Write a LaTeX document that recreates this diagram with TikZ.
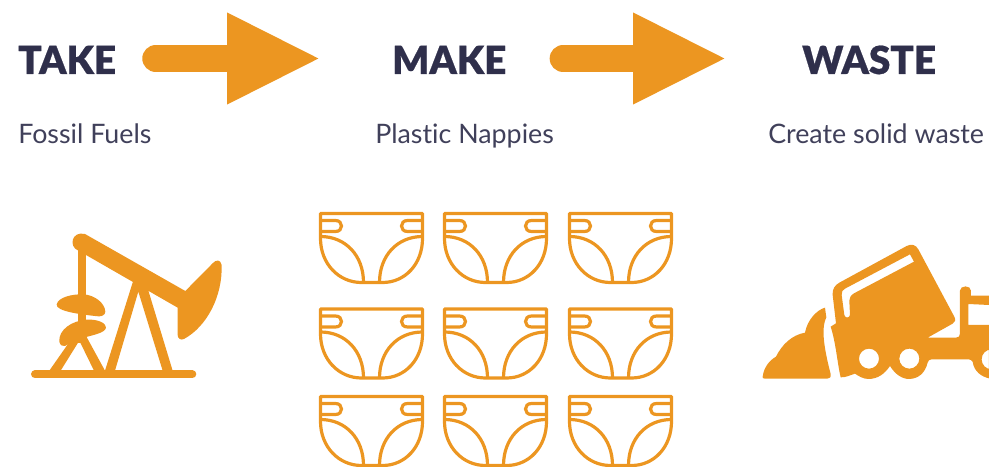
\documentclass[tikz,border=0pt]{standalone}
\usepackage{fontspec}
\setmainfont{Lato}[Ligatures=NoCommon]
\newfontfamily\headfont{Lato Black}[FakeBold=0.6]
\usetikzlibrary{arrows.meta}
\definecolor{accent}{RGB}{236,150,33}
\definecolor{ink}{RGB}{47,47,75}
\tikzset{
  headlabel/.style={anchor=base west,inner sep=0pt,text=ink,text height=23.25pt,text depth=0pt,font=\headfont\fontsize{29}{30}\selectfont},
  sublabel/.style={anchor=base west,inner sep=0pt,text=ink!92,font=\fontsize{20.1}{22}\selectfont},
  flow/.style={draw=accent,line width=20.25pt,line cap=round,-{Triangle[length=70.5pt,width=63.4pt,fill=accent]}},
  nappy/.pic={
    \draw[accent,line width=2.4pt,line join=round]
      (0,0) -- (102,0) -- (102,25) .. controls (102,50) and (85,69) .. (62,69) -- (41,69) .. controls (18,69) and (0,50) .. (0,25) -- cycle;
    \draw[accent,line width=2.4pt] (0,7) -- (15,7) .. controls (23,7) and (23,18) .. (15,18) -- (0,18);
    \draw[accent,line width=2.4pt] (102,7) -- (87,7) .. controls (79,7) and (79,18) .. (87,18) -- (102,18);
    \draw[accent,line width=2.4pt] (0,23) .. controls (25,23) and (43,42) .. (43,69);
    \draw[accent,line width=2.4pt] (102,23) .. controls (77,23) and (59,42) .. (59,69);
  }
}
\begin{document}
\begin{tikzpicture}[x=0.75pt,y=-0.75pt]
\useasboundingbox (0,0) rectangle (989,467);
\node[headlabel] (take) at (18,74) {TAKE};
\node[headlabel] (make) at (392,74) {MAKE};
\node[headlabel] (waste) at (802,74) {WASTE};
\node[sublabel] (fuels) at (18,143) {Fossil Fuels};
\node[sublabel] (nappies) at (375,143) {Plastic Nappies};
\node[sublabel] (solid) at (768,143) {Create solid waste};
\draw[flow,shorten <=29.6pt,shorten >=53.25pt] (take.east) -- (make.west);
\draw[flow,shorten <=42.4pt,shorten >=56.25pt] (make.east) -- (waste.west);
\foreach \i in {320.5,444.5,569.5}{
  \foreach \j in {213.5,309,396.5}{
    \pic at (\i,\j) {nappy};
  }
}
% pump
\begin{scope}[shift={(0,210)},scale=0.3333]
\draw[accent,line width=6pt,line cap=round] (105,493) -- (577,493);
\fill[accent] (233,100) rectangle (258,400);
\fill[accent] (148,482) -- (225,372) -- (255,372) -- (315,482) -- (282,482) -- (238,392) -- (182,482) -- cycle;
\fill[accent] (315,482) -- (402,205) -- (440,225) -- (518,482) -- (488,482) -- (415,245) -- (345,482) -- cycle;
\fill[accent] (255,72) -- (556,243) -- (638,160) .. controls (648,148) and (662,148) .. (665,165)
  .. controls (668,260) and (620,350) .. (552,387) .. controls (542,392) and (533,385) .. (533,375)
  -- (533,293) -- (258,135) -- (235,122) .. controls (205,110) and (215,62) .. (255,72) -- cycle;
\fill[accent] (170,283) .. controls (175,262) and (215,252) .. (250,253) .. controls (285,255) and (315,280) .. (316,305)
  .. controls (316,315) and (305,320) .. (295,319) .. controls (255,315) and (165,305) .. (170,283) -- cycle;
\fill[accent] (178,395) .. controls (175,360) and (215,332) .. (260,329) .. controls (295,327) and (318,340) .. (318,352)
  .. controls (318,368) and (280,375) .. (255,382) .. controls (230,392) and (210,400) .. (195,408) .. controls (188,411) and (180,405) .. (178,395) -- cycle;
\end{scope}
% truck
\begin{scope}[shift={(750,230)},scale=0.3333]
\fill[accent] (38,440) .. controls (42,410) and (60,390) .. (78,380) .. controls (95,345) and (125,315) .. (165,308)
  .. controls (172,270) and (200,240) .. (225,233) -- (229,262) .. controls (215,290) and (218,340) .. (242,432)
  .. controls (243,442) and (240,446) .. (232,446) -- (45,446) .. controls (38,446) and (37,444) .. (38,440) -- cycle;
\fill[accent,even odd rule] (242,290) -- (258,280) -- (248,195) .. controls (246,178) and (255,165) .. (268,158)
  -- (470,48) .. controls (485,40) and (498,45) .. (505,58) -- (613,260) .. controls (618,270) and (616,276) .. (608,281)
  -- (533,323) -- (618,323) .. controls (627,323) and (630,318) .. (630,310) -- (630,182)
  .. controls (630,165) and (663,165) .. (663,182) -- (663,197) -- (717,197) -- (717,225) -- (655,222) -- (655,285) -- (717,285)
  -- (717,445) .. controls (695,440) and (672,425) .. (668,395) .. controls (665,390) and (660,388) .. (655,388)
  -- (545,388) .. controls (538,388) and (535,392) .. (533,398) .. controls (525,430) and (505,446) .. (478,447)
  .. controls (455,447) and (435,432) .. (420,408) .. controls (405,430) and (385,447) .. (355,447)
  .. controls (340,447) and (325,438) .. (315,431) .. controls (300,436) and (285,443) .. (272,442)
  .. controls (262,400) and (258,340) .. (242,290) -- cycle
  (357,386) circle[radius=30] (478,386) circle[radius=30] (725,388) circle[radius=30]
  (480,73) -- (492,95) -- (312,190) .. controls (302,196) and (298,204) .. (298,212) -- (300,255) .. controls (298,265) and (285,265) .. (283,255)
  -- (275,195) .. controls (274,185) and (278,180) .. (285,176) -- cycle;
\end{scope}
\end{tikzpicture}
\end{document}
